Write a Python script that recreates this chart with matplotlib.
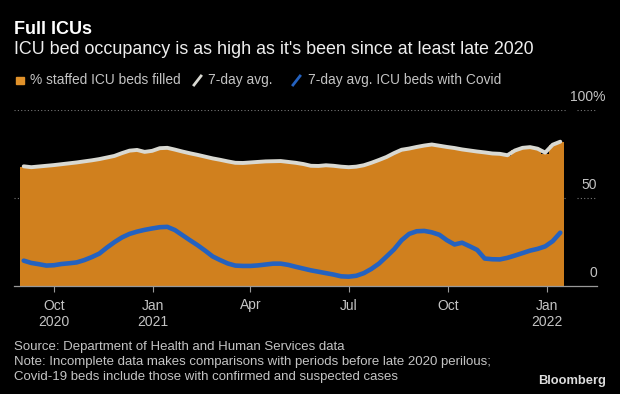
import numpy as np
import pandas as pd
import matplotlib.pyplot as plt
from matplotlib.lines import Line2D
from matplotlib.patches import Rectangle

plt.rcParams['font.family'] = ['Liberation Sans', 'DejaVu Sans']

# weekly points, Sep 3 2020 -> Jan 13 2022
weeks = pd.date_range('2020-09-03', periods=72, freq='7D')

# 7-day avg. % of staffed ICU beds filled
avg_filled = [68.0, 67.5, 67.9, 68.3, 68.7, 69.2, 69.7, 70.2, 70.8, 71.4,
              72.1, 73.0, 73.9, 75.5, 76.9, 77.3, 76.2, 76.8, 78.3, 78.5,
              77.5, 76.4, 75.4, 74.5, 73.5, 72.5, 71.7, 70.8, 70.0, 69.9,
              70.2, 70.5, 70.8, 70.9, 71.0, 70.5, 70.0, 69.3, 68.3, 68.2,
              68.6, 68.3, 67.8, 67.5, 67.8, 68.6, 70.0, 71.6, 73.3, 75.5,
              77.4, 78.1, 79.0, 79.8, 80.4, 79.7, 79.0, 78.4, 77.6, 77.0,
              76.4, 75.9, 75.3, 75.1, 74.3, 77.0, 78.5, 78.9, 78.0, 75.8,
              80.3, 82.0]

# % staffed ICU beds filled (bars)
filled = [67.6, 66.8, 67.4, 68.0, 68.5, 69.0, 69.6, 70.1, 70.6, 71.3,
          72.0, 73.0, 73.8, 75.5, 76.9, 77.3, 76.0, 76.8, 78.3, 78.4,
          77.3, 76.2, 75.1, 74.1, 73.1, 72.0, 71.2, 70.3, 69.6, 69.5,
          70.0, 70.3, 70.6, 70.8, 70.9, 70.1, 69.6, 69.0, 68.0, 67.8,
          68.3, 67.9, 67.5, 67.1, 67.6, 68.6, 70.0, 71.6, 73.3, 75.5,
          77.4, 78.0, 78.9, 79.6, 80.3, 79.5, 78.7, 78.0, 77.2, 76.6,
          76.0, 75.6, 75.0, 75.0, 74.0, 77.0, 78.5, 78.6, 77.6, 75.2,
          80.3, 82.0]

# 7-day avg. % of ICU beds with Covid
covid = [14.4, 13.1, 12.4, 11.6, 11.8, 12.5, 12.9, 13.4, 14.7, 16.4,
         18.4, 21.8, 24.9, 27.6, 29.6, 30.9, 31.9, 32.7, 33.4, 33.6,
         31.8, 28.9, 26.0, 23.2, 20.1, 16.8, 14.7, 12.8, 11.6, 11.4,
         11.4, 11.7, 12.2, 12.7, 12.7, 12.0, 10.9, 9.9, 8.9, 8.1,
         7.3, 6.5, 5.5, 5.3, 5.8, 7.3, 9.7, 12.7, 16.7, 20.8,
         26.0, 29.6, 31.1, 31.3, 30.5, 29.1, 26.0, 23.6, 24.6, 22.6,
         20.5, 15.6, 15.2, 15.1, 16.0, 17.3, 18.7, 20.1, 21.1, 22.5,
         25.5, 30.3]

tick_dates = pd.to_datetime(['2020-10-01', '2021-01-01', '2021-04-01',
                             '2021-07-01', '2021-10-01', '2022-01-01'])
tick_labels = ['Oct\n2020', 'Jan\n2021', 'Apr', 'Jul', 'Oct', 'Jan\n2022']

bg = 'black'
orange = '#D0801E'
white_line = '#D9D9D2'
blue = '#2462C0'
grey_txt = '#C4C4C4'

fig = plt.figure(figsize=(6.2, 3.94), dpi=100, facecolor=bg)
ax = fig.add_axes([14 / 620, 108 / 394, 583 / 620, 176 / 394], facecolor=bg)

ax.bar(weeks, filled, width=7, color=orange, linewidth=0, zorder=2)
ax.plot(weeks, avg_filled, color=white_line, lw=2.8, zorder=3,
        solid_capstyle='round')
ax.plot(weeks, covid, color=blue, lw=3.3, zorder=4, solid_capstyle='round')

ax.set_xlim(pd.Timestamp('2020-08-25'), pd.Timestamp('2022-02-16'))
ax.set_ylim(0, 100)

# dotted gridlines, split where the labels sit
for v in [50, 100]:
    ax.axhline(v, xmin=0, xmax=553 / 583, color='#777777', lw=0.8,
               ls=(0, (1, 2)), zorder=1)
    ax.axhline(v, xmin=563 / 583, xmax=1, color='#777777', lw=0.8,
               ls=(0, (1, 2)), zorder=1)

ax.text(1.015, 100 + 7.5, '100%', transform=ax.get_yaxis_transform(),
        ha='right', va='center', color=grey_txt, fontsize=10)
ax.text(1.0, 50 + 7.5, '50', transform=ax.get_yaxis_transform(),
        ha='right', va='center', color=grey_txt, fontsize=10)
ax.text(1.0, 0 + 7.5, '0', transform=ax.get_yaxis_transform(),
        ha='right', va='center', color=grey_txt, fontsize=10)

ax.set_yticks([])
ax.set_xticks(tick_dates)
ax.set_xticklabels(tick_labels, color=grey_txt, fontsize=10, linespacing=1.25)
ax.tick_params(axis='x', length=4, width=0.8, color='#999999', pad=5)
for s in ['top', 'right', 'left']:
    ax.spines[s].set_visible(False)
ax.spines['bottom'].set_color('#999999')
ax.spines['bottom'].set_linewidth(0.9)
ax.spines['bottom'].set_zorder(5)

# titles
fig.text(14 / 620, 1 - 30 / 394, 'Full ICUs', color='white', fontsize=13,
         fontweight='bold', va='center')
fig.text(14 / 620, 1 - 50 / 394,
         "ICU bed occupancy is as high as it's been since at least late 2020",
         color='#EEEEEE', fontsize=12.9, va='center')

# legend row
ly = 1 - 80 / 394
fig.patches.append(Rectangle((16 / 620, 1 - 84 / 394), 8 / 620, 7 / 394,
                             transform=fig.transFigure, color='#E0912A'))
fig.text(30 / 620, ly, '% staffed ICU beds filled', color=grey_txt,
         fontsize=9.9, va='center')
fig.lines.append(Line2D([194 / 620, 201 / 620], [1 - 85 / 394, 1 - 76 / 394],
                        transform=fig.transFigure, color=white_line, lw=2))
fig.text(208 / 620, ly, '7-day avg.', color=grey_txt, fontsize=9.9,
         va='center')
fig.lines.append(Line2D([293 / 620, 300 / 620], [1 - 85 / 394, 1 - 76 / 394],
                        transform=fig.transFigure, color=blue, lw=2))
fig.text(308 / 620, ly, '7-day avg. ICU beds with Covid', color=grey_txt,
         fontsize=9.9, va='center')

# footer
fs_note = 9.5
fig.text(14 / 620, 1 - 347 / 394,
         'Source: Department of Health and Human Services data',
         color=grey_txt, fontsize=fs_note, va='center')
fig.text(14 / 620, 1 - 362 / 394,
         'Note: Incomplete data makes comparisons with periods before late 2020 perilous;',
         color=grey_txt, fontsize=fs_note, va='center')
fig.text(14 / 620, 1 - 377 / 394,
         'Covid-19 beds include those with confirmed and suspected cases',
         color=grey_txt, fontsize=fs_note, va='center')
fig.text(606 / 620, 1 - 381 / 394, 'Bloomberg', color='#DDDDDD',
         fontsize=9.3, fontweight='bold', ha='right', va='center')

fig.savefig('out.png', dpi=100, facecolor=bg)
